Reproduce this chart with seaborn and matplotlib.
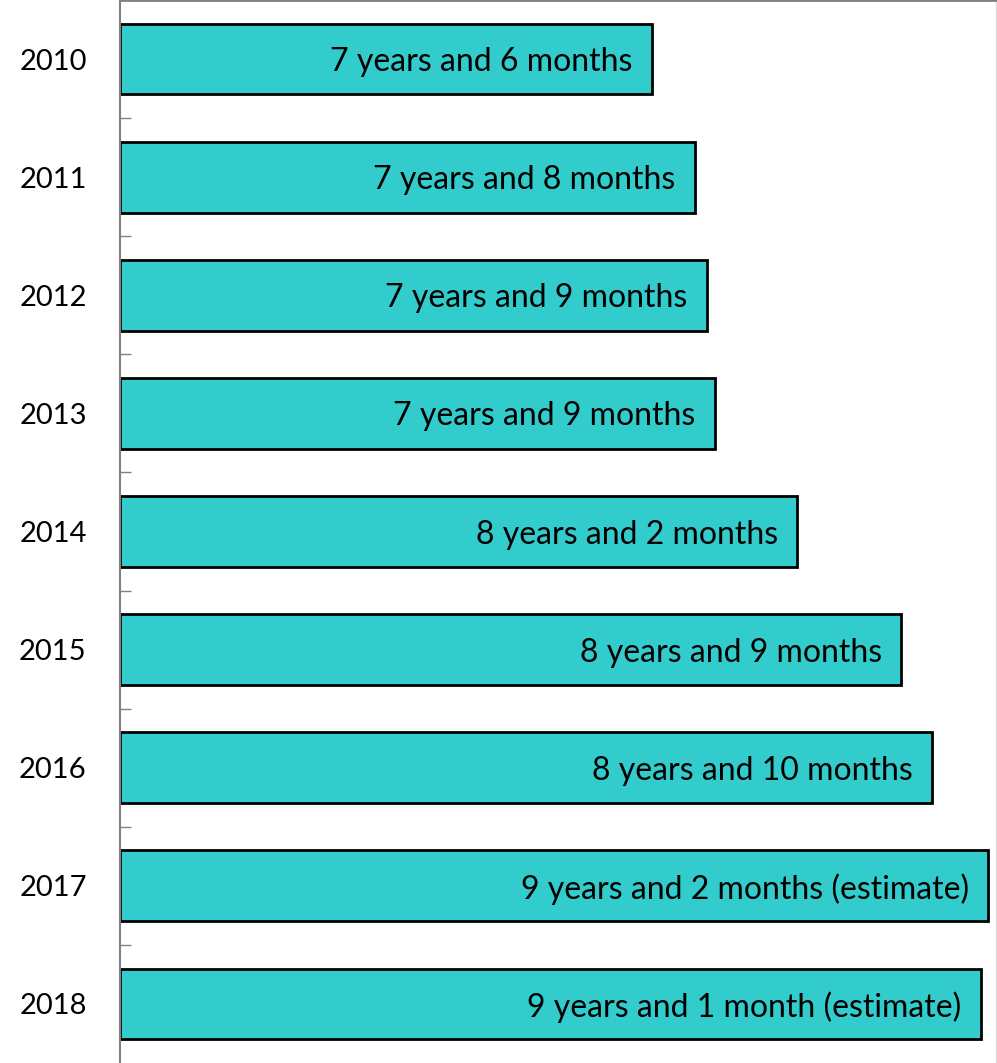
import pandas as pd
import matplotlib
matplotlib.use("Agg")
import matplotlib.pyplot as plt
import seaborn as sns
from matplotlib.ticker import FixedLocator

years = ["2010", "2011", "2012", "2013", "2014", "2015", "2016", "2017", "2018"]
# bar lengths (axis runs 0-100)
bar_length = [60.7, 65.6, 67.0, 67.9, 77.3, 89.2, 92.7, 99.1, 98.3]
bar_text = [
    "7 years and 6 months",
    "7 years and 8 months",
    "7 years and 9 months",
    "7 years and 9 months",
    "8 years and 2 months",
    "8 years and 9 months",
    "8 years and 10 months",
    "9 years and 2 months (estimate)",
    "9 years and 1 month (estimate)",
]


def main():
    sns.set_style("white")
    plt.rcParams["font.family"] = ["Lato", "DejaVu Sans"]

    df = pd.DataFrame({"year": years, "length": bar_length})

    fig = plt.figure(figsize=(9.97, 10.63), dpi=100)
    ax = fig.add_axes([120 / 997, 0, 876 / 997, 1])

    sns.barplot(data=df, x="length", y="year", orient="h", color="#33CCCC",
                saturation=1, width=0.6, edgecolor="black", linewidth=2, ax=ax)

    for bar, txt in zip(ax.patches, bar_text):
        ax.annotate(txt, xy=(bar.get_width(), bar.get_y() + bar.get_height() / 2),
                    xytext=(-14, 0), textcoords="offset points",
                    ha="right", va="center_baseline", fontsize=23, color="black")

    ax.set_xlim(0, 100)
    ax.set_ylim(len(years) - 0.5, -0.5)
    ax.set_xlabel("")
    ax.set_ylabel("")
    ax.set_xticks([])

    # small ticks between the bars
    ax.yaxis.set_minor_locator(FixedLocator([i + 0.5 for i in range(len(years) - 1)]))
    ax.tick_params(axis="y", which="major", left=False, length=0, pad=24,
                   labelsize=21, labelcolor="black")
    ax.tick_params(axis="y", which="minor", left=True, direction="in", length=8,
                   width=1, color="#808080")

    ax.spines["left"].set_color("#808080")
    ax.spines["left"].set_linewidth(1.5)
    ax.spines["top"].set_color("#808080")
    ax.spines["top"].set_linewidth(2)
    ax.spines["right"].set_color("#d9d9d9")
    ax.spines["right"].set_linewidth(1)
    ax.spines["bottom"].set_visible(False)

    fig.savefig("out.png", dpi=100)


if __name__ == "__main__":
    main()
